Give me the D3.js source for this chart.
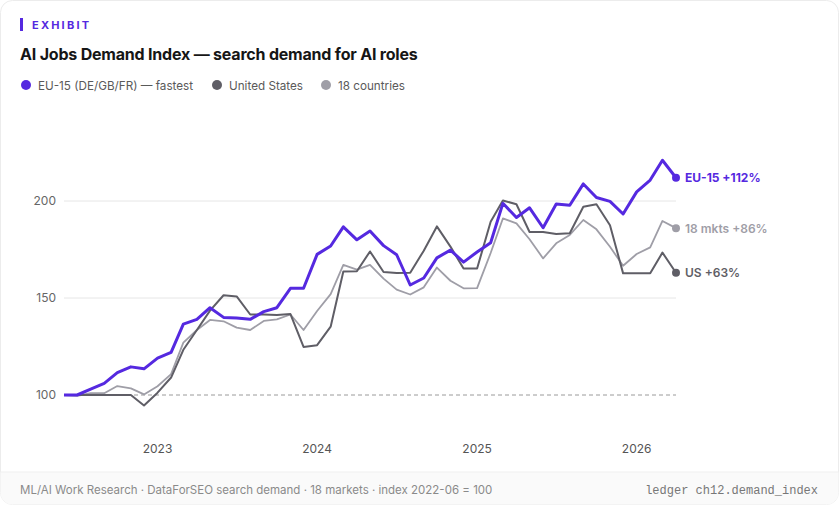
<!DOCTYPE html>
<html>
<head>
<meta charset="utf-8">
<script src="https://cdn.jsdelivr.net/npm/d3@7"></script>
<style>
  body { margin: 0; background: #fff; font-family: Inter, "Noto Sans", sans-serif; }
  svg { display: block; }
</style>
</head>
<body>
<script>
// index values, monthly from 2022-06 to 2026-04 (2022-06 = 100)
var startMonth = new Date(2022, 5, 1);
var eu15 = [100, 100, 103, 106, 111.5, 114.5, 113.5, 119, 122, 136.5, 139, 145, 140, 139.7, 139, 143,
  145, 155, 155, 172.5, 176.8, 186.7, 180, 184.5, 177, 172.3, 156.7, 160.3, 170.7, 174.7, 168.5, 173.7,
  178.5, 198.8, 191.5, 196.5, 186.2, 198.5, 197.8, 208.8, 201.8, 199.8, 193.3, 204.7, 210.8, 221, 212];
var us = [100, 100, 100, 100, 100, 100, 94.6, 101.2, 109, 123.3, 133.5, 143.5, 151.4, 150.8, 141.5, 141.5,
  141.3, 141.7, 124.8, 125.7, 135.2, 163.7, 163.8, 174, 163.4, 162.9, 163, 174.4, 186.9, 176.5, 165.2, 165.2,
  189.3, 200.3, 198.3, 184, 184, 183, 183.4, 197, 198.3, 187.5, 162.7, 162.7, 162.7, 173.4, 163];
var all18 = [100, 99.5, 100.9, 100.9, 104.6, 103.4, 100.3, 104.5, 110.8, 127, 133.5, 138.7, 138, 134.7, 133.5, 138.2,
  139, 141.5, 133.5, 143.3, 152, 167.1, 164.6, 167.1, 160, 154.3, 151.8, 155.5, 165.7, 158.9, 155, 155.1,
  173.2, 191, 188.5, 180.3, 170.4, 178.2, 182.5, 190.2, 185.4, 176.4, 166.6, 172.7, 176.1, 189.7, 186];

var yTicks = [100, 150, 200];
var xTickYears = [2023, 2024, 2025, 2026];

var series = [
  { key: "all18", name: "18 countries", label: "18 mkts", values: all18, color: "#9f9ea7", width: 1.8, weight: 600 },
  { key: "us", name: "United States", label: "US", values: us, color: "#5f5e66", width: 2, weight: 600 },
  { key: "eu15", name: "EU-15 (DE/GB/FR) \u2014 fastest", label: "EU-15", values: eu15, color: "#5529e0", width: 3, weight: 700 }
];
var legendOrder = ["eu15", "us", "all18"];

var W = 839, H = 505;
var months = d3.timeMonth.range(startMonth, d3.timeMonth.offset(startMonth, eu15.length));

var svg = d3.select("body").append("svg")
  .attr("width", W)
  .attr("height", H);

// card
svg.append("rect")
  .attr("x", 0.5).attr("y", 0.5)
  .attr("width", W - 1).attr("height", H - 1)
  .attr("rx", 12)
  .attr("fill", "#fff")
  .attr("stroke", "#ececec");

// footer band
svg.append("path")
  .attr("d", "M0.5,472 H" + (W - 0.5) + " V" + (H - 12.5) + " a12,12 0 0 1 -12,12 H12.5 a12,12 0 0 1 -12,-12 Z")
  .attr("fill", "#fafafa");
svg.append("line")
  .attr("x1", 0).attr("x2", W).attr("y1", 472).attr("y2", 472)
  .attr("stroke", "#efefef");

// header
svg.append("rect")
  .attr("x", 20).attr("y", 18).attr("width", 3).attr("height", 13)
  .attr("fill", "#5529e0");
svg.append("text")
  .attr("x", 32).attr("y", 29)
  .attr("fill", "#5529e0")
  .style("font-size", "11px")
  .style("font-weight", 700)
  .style("letter-spacing", "2.2px")
  .text("EXHIBIT");
svg.append("text")
  .attr("x", 20).attr("y", 60)
  .attr("fill", "#161616")
  .style("font-size", "16px")
  .style("font-weight", 700)
  .style("letter-spacing", "-0.2px")
  .text("AI Jobs Demand Index \u2014 search demand for AI roles");

// legend
var legendX = [26, 217, 326];
legendOrder.forEach(function (k, i) {
  var s = series.find(function (d) { return d.key === k; });
  var g = svg.append("g").attr("transform", "translate(" + legendX[i] + ",85)");
  g.append("circle").attr("r", 5).attr("fill", s.color);
  g.append("text")
    .attr("x", 12).attr("y", 4.5)
    .attr("fill", "#5a5a5a")
    .style("font-size", "11.7px")
    .text(s.name);
});

// scales
var x = d3.scaleTime()
  .domain([months[0], months[months.length - 1]])
  .range([64, 676]);
var y = d3.scaleLinear()
  .domain([100, 200])
  .range([395, 201]);

// gridlines
svg.append("g")
  .selectAll("line")
  .data(yTicks.filter(function (d) { return d !== 100; }))
  .join("line")
  .attr("x1", 64).attr("x2", 676)
  .attr("y1", function (d) { return y(d); })
  .attr("y2", function (d) { return y(d); })
  .attr("stroke", "#e6e6e6");

// baseline at 100
svg.append("line")
  .attr("x1", 64).attr("x2", 676)
  .attr("y1", y(100)).attr("y2", y(100))
  .attr("stroke", "#9a9a9a")
  .attr("stroke-dasharray", "4,3");

// y axis labels
svg.append("g")
  .selectAll("text")
  .data(yTicks)
  .join("text")
  .attr("x", 56)
  .attr("y", function (d) { return y(d) + 4; })
  .attr("text-anchor", "end")
  .attr("fill", "#666")
  .style("font-size", "12px")
  .text(function (d) { return d; });

// x axis labels
svg.append("g")
  .selectAll("text")
  .data(xTickYears)
  .join("text")
  .attr("x", function (d) { return x(new Date(d, 0, 1)); })
  .attr("y", 453)
  .attr("text-anchor", "middle")
  .attr("fill", "#555")
  .style("font-size", "12px")
  .text(function (d) { return d; });

// lines
var line = d3.line()
  .x(function (d, i) { return x(months[i]); })
  .y(function (d) { return y(d); });

series.forEach(function (s) {
  svg.append("path")
    .datum(s.values)
    .attr("fill", "none")
    .attr("stroke", s.color)
    .attr("stroke-width", s.width)
    .attr("stroke-linejoin", "round")
    .attr("d", line);
});

// end dots and labels
series.forEach(function (s) {
  var last = s.values[s.values.length - 1];
  var lx = x(months[months.length - 1]);
  svg.append("circle")
    .attr("cx", lx).attr("cy", y(last))
    .attr("r", 4)
    .attr("fill", s.color);
  svg.append("text")
    .attr("x", lx + 9).attr("y", y(last) + 4.5)
    .attr("fill", s.color)
    .style("font-size", "12px")
    .style("font-weight", s.weight)
    .text(s.label + " +" + Math.round(last - 100) + "%");
});

// footer
svg.append("text")
  .attr("x", 20).attr("y", 494)
  .attr("fill", "#8a8a8a")
  .style("font-size", "11.5px")
  .text("ML/AI Work Research \u00b7 DataForSEO search demand \u00b7 18 markets \u00b7 index 2022-06 = 100");
svg.append("text")
  .attr("x", 818).attr("y", 494)
  .attr("text-anchor", "end")
  .attr("fill", "#777")
  .style("font-family", "'Liberation Mono', 'DejaVu Sans Mono', monospace")
  .style("font-size", "12px")
  .text("ledger ch12.demand_index");
</script>
</body>
</html>
